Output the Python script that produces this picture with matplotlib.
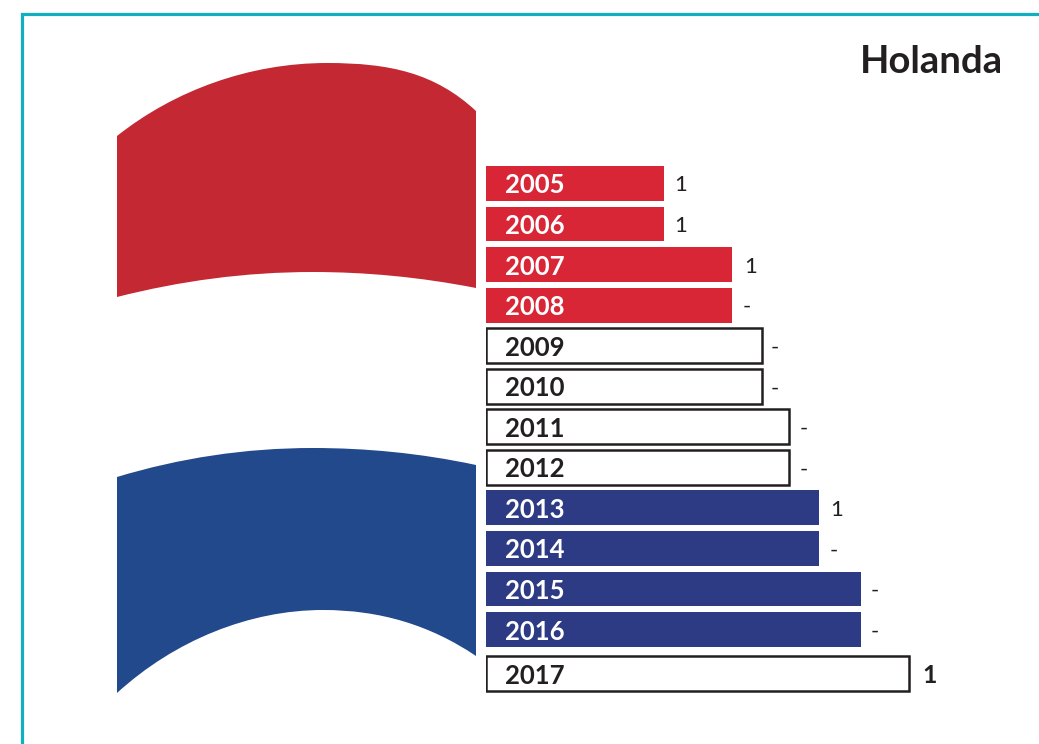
import numpy as np
import matplotlib.pyplot as plt
from matplotlib.path import Path
from matplotlib.patches import PathPatch

plt.rcParams['font.family'] = ['Lato', 'DejaVu Sans']

years = ['2005', '2006', '2007', '2008', '2009', '2010', '2011', '2012',
         '2013', '2014', '2015', '2016', '2017']
bar_lengths = [178, 178, 246, 246, 276, 276, 303, 303, 333, 333, 375, 375, 423]
values = ['1', '1', '1', '-', '-', '-', '-', '-', '1', '-', '-', '-', '1']
value_gaps = [17, 17, 19, 15, 13, 13, 15, 15, 18, 15, 14, 14, 21]
fill_colors = ['#d92636'] * 4 + ['white'] * 4 + ['#2d3a84'] * 4 + ['white']
edge_colors = ['none'] * 4 + ['#231f20'] * 4 + ['none'] * 4 + ['#231f20']
text_colors = ['white'] * 4 + ['#231f20'] * 4 + ['white'] * 4 + ['#231f20']

# flag shape, in picture pixels
red_band = [(117, 136), (175, 90), (250, 63), (327, 63), (390, 63), (435, 73), (476, 111),
            (476, 288), (420, 277), (365, 272), (313, 272), (245, 272), (180, 281), (117, 297),
            (117, 136)]
blue_band = [(117, 477), (180, 458), (245, 448), (313, 448), (365, 448), (420, 453), (476, 465),
             (476, 656), (430, 625), (380, 610), (323, 610), (250, 610), (175, 640), (117, 693),
             (117, 477)]
band_codes = [Path.MOVETO] + [Path.CURVE4] * 6 + [Path.LINETO] + [Path.CURVE4] * 6 + [Path.CLOSEPOLY]

W, H = 1039, 744
fig = plt.figure(figsize=(W / 100, H / 100), dpi=100, facecolor='white')

# background layer in pixels: frame, flag, title
bg = fig.add_axes([0, 0, 1, 1])
bg.set_xlim(0, W)
bg.set_ylim(H, 0)
bg.axis('off')
bg.plot([22, 22, W], [H, 14, 14], color='#10b0c0', lw=2.3, solid_joinstyle='miter')
bg.add_patch(PathPatch(Path(red_band, band_codes), facecolor='#c32833', edgecolor='none'))
bg.add_patch(PathPatch(Path(blue_band, band_codes), facecolor='#21498c', edgecolor='none'))
bg.text(1003, 73, 'Holanda', ha='right', va='baseline', fontsize=27.5, fontweight='bold', color='#231f20')

# bars: one row every 40.55 px, last row sits a bit lower
left_px, top_px, bottom_px = 486, 163.2, 702.5
ax = fig.add_axes([left_px / W, 1 - bottom_px / H, (W - left_px) / W, (bottom_px - top_px) / H])
ax.patch.set_alpha(0)
ax.set_xlim(0, W - left_px)
ax.set_ylim(12.8, -0.5)
ax.axis('off')

rows = np.arange(len(years), dtype=float)
rows[-1] += 0.085
for i in range(len(years)):
    outlined = edge_colors[i] != 'none'
    ax.barh(rows[i], bar_lengths[i], height=0.86, color=fill_colors[i],
            edgecolor=edge_colors[i], linewidth=1.8 if outlined else 0)
    ax.text(19, rows[i], years[i], color=text_colors[i], fontsize=18.5, fontweight='bold',
            ha='left', va='center_baseline')
    last = i == len(years) - 1
    ax.text(bar_lengths[i] + value_gaps[i], rows[i], values[i], color='#231f20', ha='center',
            va='center_baseline', fontsize=18 if last else 16,
            fontweight='bold' if last else 'normal')

fig.savefig('out.png', dpi=100)
